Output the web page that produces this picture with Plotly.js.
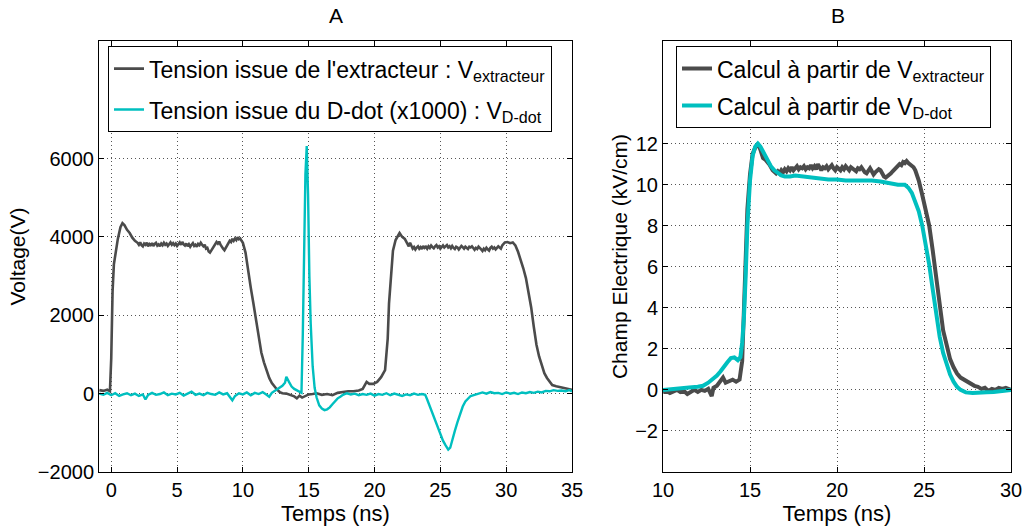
<!DOCTYPE html>
<html>
<head>
<meta charset="utf-8">
<script src="https://cdn.plot.ly/plotly-3.0.1.min.js"></script>
<style>html,body{margin:0;padding:0;background:#fff;}#chart{width:1026px;height:526px;}</style>
</head>
<body>
<div id="chart"></div>
<script>
// Panel A : Tension issue de l'extracteur (V)
const tExtA = [-0.9,-0.6,-0.3,-0.1,0.0,0.1,0.2,0.35,0.5,0.7,0.85,1.0,1.2,1.4,1.6,1.8,
  2.0,2.1,2.2,2.3,2.4,2.5,2.6,2.7,2.8,2.9,3.0,3.1,3.2,3.3,3.4,3.5,3.6,3.7,3.8,3.9,4.0,4.1,4.2,4.3,4.4,4.5,4.6,4.7,4.8,4.9,5.0,5.1,5.2,5.3,5.4,5.5,5.6,5.7,5.8,5.9,6.0,6.1,6.2,6.3,6.4,6.5,6.6,6.7,6.8,6.9,7.0,7.1,7.2,7.3,7.4,7.5,7.6,7.7,7.8,7.9,8.0,8.1,8.2,8.3,8.4,8.5,8.6,8.7,8.8,8.9,9.0,9.1,9.2,9.3,9.4,9.5,9.6,9.7,9.8,9.9,
  10.0,10.2,10.4,10.6,10.8,11.0,11.2,11.4,11.6,11.8,12.0,12.2,12.4,12.6,12.8,13.0,13.3,13.6,13.9,14.1,14.3,14.5,14.8,15.0,15.3,15.6,16.0,16.4,16.8,17.2,17.6,18.0,18.4,18.8,19.1,19.4,19.6,19.9,20.2,20.5,20.8,21.0,21.1,21.25,21.4,21.6,21.9,22.1,22.3,
  22.5,22.6,22.7,22.8,22.9,23.0,23.1,23.2,23.3,23.4,23.5,23.6,23.7,23.8,23.9,24.0,24.1,24.2,24.3,24.4,24.5,24.6,24.7,24.8,24.9,25.0,25.1,25.2,25.3,25.4,25.5,25.6,25.7,25.8,25.9,26.0,26.1,26.2,26.3,26.4,26.5,26.6,26.7,26.8,26.9,27.0,27.1,27.2,27.3,27.4,27.5,27.6,27.7,27.8,27.9,28.0,28.1,28.2,28.3,28.4,28.5,28.6,28.7,28.8,28.9,29.0,29.1,29.2,29.3,29.4,29.5,29.6,29.7,29.8,29.9,
  30.1,30.3,30.5,30.7,30.9,31.1,31.3,31.5,31.7,31.9,32.1,32.3,32.5,32.7,32.9,33.1,33.3,33.5,33.8,34.1,34.4,34.7,35.0];
const vExtA = [90,70,100,60,900,2600,3300,3700,3950,4250,4350,4300,4180,4100,3980,3900,
  3850,3800,3860,3790,3760,3830,3800,3850,3760,3820,3790,3840,3770,3820,3850,3780,3810,3760,3830,3790,3850,3800,3830,3770,3810,3860,3800,3840,3790,3830,3770,3820,3860,3800,3870,3810,3780,3830,3760,3810,3750,3800,3840,3770,3800,3750,3820,3790,3850,3800,3760,3800,3700,3720,3630,3600,3650,3700,3760,3820,3870,3830,3880,3800,3740,3700,3660,3720,3780,3850,3900,3870,3950,3900,3960,3920,3990,3940,3960,3900,
  3850,3600,3100,2700,2300,1900,1400,1050,800,600,400,270,180,100,40,10,0,-40,-70,-120,-50,-100,-60,-20,-10,10,-30,-10,-40,20,40,60,60,80,120,300,250,250,300,420,600,1400,2300,3100,3650,3920,4100,4000,3950,
  3820,3760,3850,3760,3700,3740,3680,3730,3760,3700,3740,3690,3770,3720,3750,3700,3760,3720,3780,3740,3710,3760,3790,3730,3760,3700,3740,3780,3730,3770,3790,3730,3760,3710,3770,3720,3690,3750,3730,3680,3720,3770,3740,3700,3750,3720,3690,3750,3730,3760,3710,3670,3720,3690,3750,3700,3680,3640,3700,3660,3720,3680,3650,3720,3750,3700,3730,3680,3710,3760,3730,3700,3780,3820,3860,
  3870,3840,3860,3780,3620,3420,3200,2950,2600,2200,1700,1250,950,700,520,400,300,220,190,170,150,130,100];

// Panel A : Tension issue du D-dot (x1000)
const tDdotA = [-0.9,-0.6,-0.3,0.0,0.3,0.6,0.9,1.2,1.5,1.8,2.1,2.4,2.6,2.8,3.1,3.4,3.7,4.0,4.3,4.6,4.9,5.2,5.5,5.8,6.1,6.4,6.7,7.0,7.3,7.6,7.9,8.2,8.5,8.8,9.0,9.2,9.4,9.7,10.0,10.3,10.6,10.9,11.2,11.5,11.8,12.0,12.2,12.5,12.8,13.0,13.2,13.3,13.5,13.7,13.9,14.1,14.3,14.45,14.55,14.65,14.75,14.85,14.95,15.05,15.15,15.3,15.45,15.6,15.8,16.0,16.2,16.4,16.6,16.8,17.0,17.2,17.4,17.6,17.9,18.2,18.5,18.8,19.1,19.4,19.7,20.0,20.3,20.6,20.9,21.2,21.5,21.8,22.1,22.4,22.7,23.0,23.3,23.6,23.85,24.0,24.2,24.4,24.6,24.8,25.0,25.2,25.4,25.6,25.75,25.9,26.1,26.3,26.5,26.7,26.9,27.1,27.3,27.6,27.9,28.2,28.5,28.8,29.1,29.4,29.7,30.0,30.3,30.6,30.9,31.2,31.5,31.8,32.1,32.4,32.7,33.0,33.3,33.6,33.9,34.2,34.5,34.8,35.0];
const vDdotA = [0,-30,20,-40,10,-60,-20,10,-40,0,-60,-20,-150,-30,20,-30,-10,30,-40,0,-20,20,-50,10,50,-30,0,-40,20,-10,-30,30,-20,10,-80,-170,-60,10,-20,30,-40,20,-10,40,-30,-80,20,80,150,200,280,430,300,180,120,90,40,20,1500,3600,5600,6320,5100,3000,1800,700,150,-100,-300,-380,-420,-400,-350,-270,-200,-120,-80,-30,10,-20,0,-40,-10,-30,0,-50,-10,-30,10,-40,0,-30,-60,-20,-40,0,-30,-10,-30,-150,-330,-500,-670,-850,-1010,-1200,-1320,-1430,-1380,-1180,-950,-730,-500,-330,-200,-120,-60,-30,10,30,0,40,10,20,-10,30,0,20,-10,30,10,40,20,50,30,70,60,90,70,80,60,90,60];

// Panel B : Champ électrique (kV/cm)
const tExtB = [10.0,10.2,10.4,10.6,10.8,11.0,11.2,11.4,11.6,11.8,12.0,12.2,12.4,12.6,12.8,12.9,13.1,13.3,13.45,13.6,13.8,14.0,14.2,14.4,14.55,14.65,14.75,14.85,15.0,15.15,15.3,15.45,15.6,15.75,15.9,16.1,16.3,
  16.5,16.6,16.7,16.8,16.9,17.0,17.1,17.2,17.3,17.4,17.5,17.6,17.7,17.8,17.9,18.0,18.1,18.2,18.3,18.4,18.5,18.6,18.7,18.8,18.9,19.0,19.1,19.2,19.3,19.4,19.5,19.6,19.7,19.8,19.9,20.0,20.1,20.2,20.3,20.4,20.5,20.6,20.7,20.8,20.9,21.0,21.1,21.2,21.3,21.4,21.5,21.6,21.7,21.8,21.9,22.0,22.1,22.2,22.3,22.4,22.5,22.6,22.7,22.8,22.9,23.0,23.1,23.2,23.3,23.4,23.5,23.6,23.7,23.8,23.9,24.0,24.1,24.2,24.3,24.4,24.5,
  24.7,24.9,25.1,25.3,25.5,25.7,25.9,26.1,26.3,26.5,26.7,26.9,27.1,27.3,27.5,27.7,27.9,28.1,28.3,28.5,28.7,28.9,29.1,29.3,29.5,29.7,30.0];
const eExtB = [-0.1,-0.05,-0.15,-0.1,0.0,-0.1,-0.05,-0.2,-0.1,0.0,-0.1,0.0,-0.05,0.05,-0.3,0.1,0.2,0.4,0.6,0.35,0.4,0.5,0.4,0.5,1.4,3.5,6.5,8.8,10.5,11.5,11.8,12.0,11.7,11.3,11.2,11.0,10.7,
  10.55,10.65,10.55,10.7,10.6,10.75,10.65,10.8,10.7,10.85,10.7,10.8,10.9,10.75,10.85,10.8,10.9,10.75,10.85,10.8,10.95,10.8,10.9,10.75,11.0,10.85,10.7,10.85,10.8,10.9,10.75,10.85,10.95,10.8,10.7,10.85,10.8,10.7,10.85,10.75,10.9,10.8,10.7,10.85,10.8,10.7,10.65,10.8,10.75,10.85,10.7,10.6,10.55,10.7,10.8,10.65,10.5,10.6,10.65,10.75,10.7,10.55,10.4,10.35,10.4,10.5,10.55,10.65,10.75,10.85,10.9,11.0,10.95,11.1,11.05,11.15,11.05,11.0,10.95,10.85,10.7,
  10.2,9.5,8.8,8.0,6.8,5.5,4.0,2.9,2.2,1.5,1.1,0.8,0.6,0.5,0.35,0.3,0.2,0.15,0.05,0.1,-0.05,0.05,0.0,0.1,0.05,0.1,0.0];

const tDdotB = [10.0,10.5,11.0,11.5,12.0,12.3,12.6,12.9,13.1,13.3,13.5,13.7,13.9,14.1,14.3,14.45,14.55,14.65,14.75,14.85,15.0,15.15,15.3,15.45,15.6,15.8,16.0,16.2,16.4,16.6,16.8,17.0,17.3,17.6,18.0,18.5,19.0,19.5,20.0,20.5,21.0,21.5,22.0,22.5,23.0,23.5,23.9,24.1,24.3,24.5,24.7,24.9,25.1,25.3,25.5,25.7,25.9,26.1,26.3,26.5,26.7,26.9,27.1,27.4,27.8,28.2,28.6,29.0,29.5,30.0];
const eDdotB = [0.0,0.05,0.08,0.12,0.15,0.2,0.35,0.55,0.7,0.9,1.15,1.35,1.55,1.58,1.45,1.6,2.3,3.5,5.5,8.0,10.2,11.4,11.85,12.0,11.85,11.5,11.2,10.9,10.7,10.55,10.45,10.4,10.4,10.45,10.4,10.35,10.3,10.25,10.25,10.2,10.2,10.22,10.2,10.15,10.05,10.0,10.0,9.85,9.6,9.2,8.7,8.0,7.1,6.1,4.9,3.6,2.6,1.8,1.2,0.75,0.4,0.15,0.0,-0.12,-0.15,-0.15,-0.12,-0.1,-0.05,0.0];

const ticksA_y = [-2000,0,2000,4000,6000];
const ticksA_x = [0,5,10,15,20,25,30,35];
const ticksB_y = [-2,0,2,4,6,8,10,12];
const ticksB_x = [10,15,20,25,30];

const GRAY = '#4b4b4b';
const CYAN = '#00bfbf';
const FONT = 'Liberation Sans, Arial, sans-serif';

const traces = [
  {x: tExtA, y: vExtA, xaxis: 'x', yaxis: 'y', mode: 'lines', line: {color: GRAY, width: 2.6},
   name: "Tension issue de l'extracteur : V<sub>extracteur</sub>", legend: 'legend', legendgroup: 'a1'},
  {x: tDdotA, y: vDdotA, xaxis: 'x', yaxis: 'y', mode: 'lines', line: {color: CYAN, width: 2.4},
   name: "Tension issue du D-dot (x1000) : V<sub>D-dot</sub>", legend: 'legend', legendgroup: 'a2'},
  {x: tExtB, y: eExtB, xaxis: 'x2', yaxis: 'y2', mode: 'lines', line: {color: GRAY, width: 4},
   name: "Calcul à partir de V<sub>extracteur</sub>", legend: 'legend2', legendgroup: 'b1'},
  {x: tDdotB, y: eDdotB, xaxis: 'x2', yaxis: 'y2', mode: 'lines', line: {color: CYAN, width: 4},
   name: "Calcul à partir de V<sub>D-dot</sub>", legend: 'legend2', legendgroup: 'b2'}
];

const axisCommon = {
  showline: true, linecolor: '#000', linewidth: 1, mirror: 'ticks',
  ticks: 'inside', ticklen: 5, tickcolor: '#000',
  showgrid: true, gridcolor: '#555', griddash: '1px,3px', gridwidth: 1,
  zeroline: false, tickfont: {family: FONT, size: 20, color: '#000'}
};

const dA = 473/912, dB0 = 564/912;

const layout = {
  width: 1026, height: 526,
  margin: {l: 99, r: 15, t: 41, b: 54},
  paper_bgcolor: '#fff', plot_bgcolor: '#fff',
  font: {family: FONT, size: 20, color: '#000'},
  xaxis: Object.assign({}, axisCommon, {domain: [0, dA], range: [-0.93, 35], tickvals: ticksA_x,
    title: {text: 'Temps (ns)', standoff: 2, font: {family: FONT, size: 22}}}),
  yaxis: Object.assign({}, axisCommon, {anchor: 'x', range: [-2000, 9000], tickvals: ticksA_y,
    title: {text: 'Voltage(V)', standoff: 6, font: {family: FONT, size: 21}}}),
  xaxis2: Object.assign({}, axisCommon, {domain: [dB0, 1], anchor: 'y2', range: [10, 30], tickvals: ticksB_x,
    title: {text: 'Temps (ns)', standoff: 2, font: {family: FONT, size: 22}}}),
  yaxis2: Object.assign({}, axisCommon, {anchor: 'x2', range: [-4, 17], tickvals: ticksB_y,
    title: {text: 'Champ Electrique (kV/cm)', standoff: 1, font: {family: FONT, size: 21}}}),
  showlegend: true,
  legend: {x: 9/912, y: 0.988, xanchor: 'left', yanchor: 'top', bgcolor: '#fff',
    bordercolor: '#000', borderwidth: 1, font: {family: FONT, size: 23, color: '#000'}, tracegroupgap: 8},
  legend2: {x: 577/912, y: 0.988, xanchor: 'left', yanchor: 'top', bgcolor: '#fff',
    bordercolor: '#000', borderwidth: 1, font: {family: FONT, size: 23, color: '#000'}, tracegroupgap: 4},
  annotations: [
    {text: 'A', xref: 'paper', yref: 'paper', x: (336-99)/912, y: (472-16)/431, xanchor: 'center', yanchor: 'middle', showarrow: false, font: {family: FONT, size: 21}},
    {text: 'B', xref: 'paper', yref: 'paper', x: (838-99)/912, y: (472-16)/431, xanchor: 'center', yanchor: 'middle', showarrow: false, font: {family: FONT, size: 21}}
  ]
};

Plotly.newPlot('chart', traces, layout, {staticPlot: true, displayModeBar: false});
</script>
</body>
</html>
